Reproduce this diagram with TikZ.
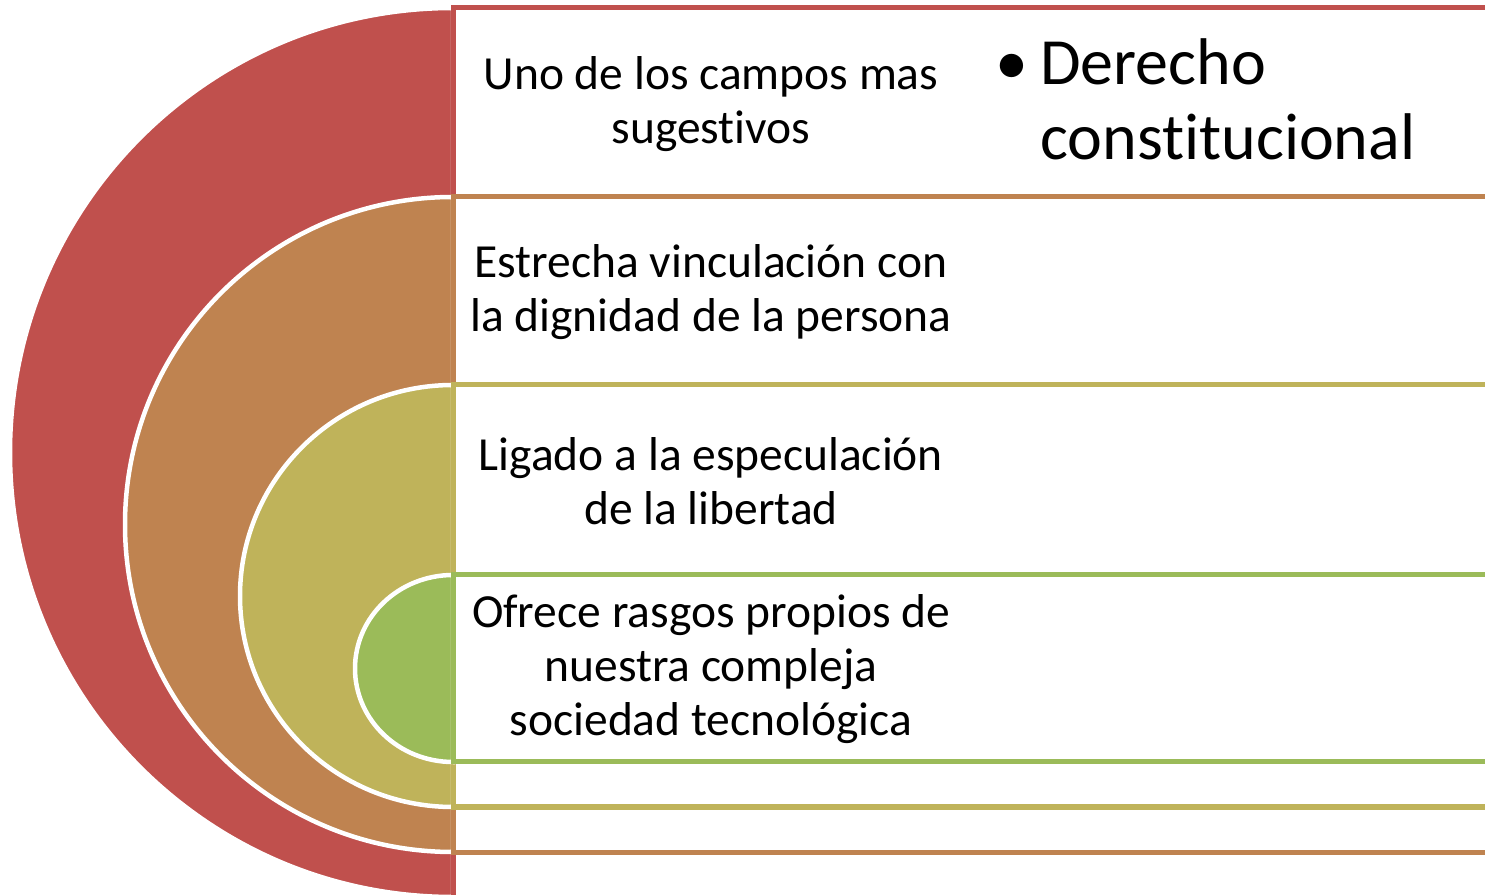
\documentclass[tikz,border=0pt]{standalone}
\usepackage{fontspec}
\setmainfont{Carlito}[RawFeature=-liga]
\definecolor{ringred}{HTML}{C0504D}
\definecolor{ringorange}{HTML}{BF8350}
\definecolor{ringolive}{HTML}{BFB35A}
\definecolor{ringgreen}{HTML}{9BBB59}

\begin{document}
\begin{tikzpicture}[
  x=1pt, y=1pt,
  band/.style={draw=#1, line width=5pt, fill=white},
  half/.style={fill=#1, draw=white, line width=4.5pt},
  txt/.style={align=center, inner sep=0pt, font=\fontsize{47.5}{54}\selectfont},
  bigtxt/.style={align=left, inner sep=0pt, font=\fontsize{66}{75}\selectfont}
]
\useasboundingbox (0,0) rectangle (1485,894);
\clip (0,0) rectangle (1485,894);

% outer ring
\path[half=ringred] (453,886) arc[start angle=90, end angle=270, x radius=443, y radius=444.5] -- cycle;
\path[band=ringred] (453,-3) rectangle (1500,886);

\path[half=ringorange] (453,697) arc[start angle=90, end angle=270, x radius=328, y radius=327.5] -- cycle;
\path[band=ringorange] (453,42) rectangle (1500,697);

\path[half=ringolive] (453,509) arc[start angle=90, end angle=270, x radius=213, y radius=211] -- cycle;
\path[band=ringolive] (453,87) rectangle (1500,509);

% inner ring
\path[half=ringgreen] (453,319) arc[start angle=90, end angle=270, x radius=98, y radius=93.5] -- cycle;
\path[band=ringgreen] (453,132) rectangle (1500,319);

\node[txt] (t1) at (711,790) {Uno de los campos mas\\sugestivos};
\node[txt] (t2) at (711,602) {Estrecha vinculación con\\la dignidad de la persona};
\node[txt] (t3) at (711,413) {Ligado a la especulación\\de la libertad};
\node[txt] (t4) at (711,224.5) {Ofrece rasgos propios de\\nuestra compleja\\sociedad tecnológica};

\node[bigtxt, anchor=west] (dc) at (995,795)
  {\makebox[45pt][l]{\textbullet}Derecho\\\hspace*{45pt}constitucional};

\end{tikzpicture}
\end{document}
